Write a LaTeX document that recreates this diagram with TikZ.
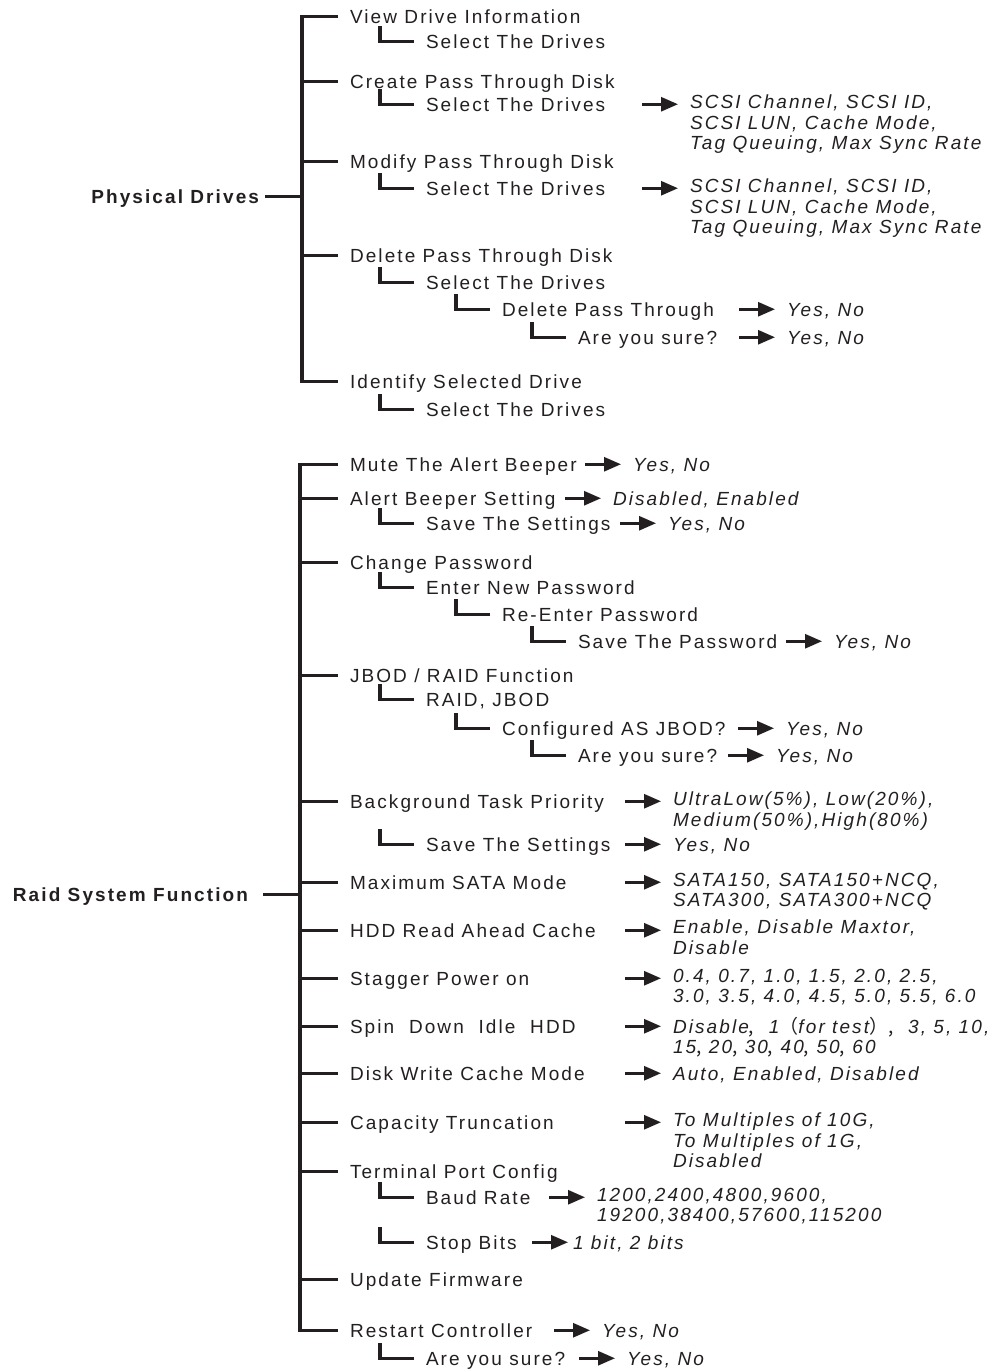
\documentclass[tikz,border=0pt]{standalone}
\usepackage{fontspec}
\setmainfont{Liberation Sans}[LetterSpace=11]
\newfontfamily\cjk{Noto Sans CJK SC}
\usetikzlibrary{arrows.meta}
\definecolor{ink}{HTML}{231F20}
\newcommand{\menufont}{\fontsize{19}{20.5}\selectfont}
\tikzset{
  root/.style={font=\menufont\bfseries, text=ink, anchor=base east, inner sep=0pt, outer xsep=6pt, text height=13.5pt, text depth=0pt},
  item/.style={font=\menufont, text=ink, anchor=base west, inner sep=0pt, outer xsep=12pt, outer ysep=5pt, text height=13.5pt, text depth=0pt},
  opt/.style ={font=\menufont\itshape, text=ink, anchor=north west, yshift=16pt, inner sep=0pt, outer xsep=12pt, align=left, execute at begin node=\rule{0pt}{16pt}},
  bar/.style ={line width=3.4pt, ink},
  go/.style  ={-{Triangle[length=17pt,width=14pt]}, line width=2.8pt, ink},
}
\begin{document}
\begin{tikzpicture}[x=1pt,y=-1pt]
  \useasboundingbox (0,0) rectangle (996,1369);
  \coordinate (pdT) at (302,0);
  \coordinate (rsT) at (300,0);

  \node[root] (pd) at (265,203) {Physical Drives};
  \node[item] (vdi) at (338,23)  {View Drive Information};
  \node[item] (sd1) at (414,48)  {Select The Drives};
  \node[item] (cpd) at (338,88)  {Create Pass Through Disk};
  \node[item] (sd2) at (414,111) {Select The Drives};
  \node[opt]  (o2)  at (678,111) {SCSI Channel, SCSI ID,\\SCSI LUN, Cache Mode,\\Tag Queuing, Max Sync Rate};
  \node[item] (mpd) at (338,168) {Modify Pass Through Disk};
  \node[item] (sd3) at (414,195) {Select The Drives};
  \node[opt]  (o3)  at (678,195) {SCSI Channel, SCSI ID,\\SCSI LUN, Cache Mode,\\Tag Queuing, Max Sync Rate};
  \node[item] (dpd) at (338,262) {Delete Pass Through Disk};
  \node[item] (sd4) at (414,289) {Select The Drives};
  \node[item] (dpt) at (490,316) {Delete Pass Through};
  \node[opt]  (odpt) at (775,316) {Yes, No};
  \node[item] (ays1) at (566,344) {Are you sure?};
  \node[opt]  (oays1) at (775,344) {Yes, No};
  \node[item] (isd) at (338,388) {Identify Selected Drive};
  \node[item] (sd5) at (414,416) {Select The Drives};

  \draw[bar] (pd.east) -- (pd.east -| pdT);
  \draw[bar] (vdi.west) -- (vdi.west -| pdT) |- (isd.west);
  \draw[bar] (cpd.west) -- (cpd.west -| pdT);
  \draw[bar] (mpd.west) -- (mpd.west -| pdT);
  \draw[bar] (dpd.west) -- (dpd.west -| pdT);
  \draw[bar] (sd1.west) -| ++(-34,-15);
  \draw[bar] (sd2.west) -| ++(-34,-15);
  \draw[bar] (sd3.west) -| ++(-34,-15);
  \draw[bar] (sd4.west) -| ++(-34,-15);
  \draw[bar] (dpt.west) -| ++(-34,-15);
  \draw[bar] (ays1.west) -| ++(-34,-15);
  \draw[bar] (sd5.west) -| ++(-34,-15);
  \draw[go] (sd2.east -| o2.west) ++(-36,0) -- (sd2.east -| o2.west);
  \draw[go] (sd3.east -| o3.west) ++(-36,0) -- (sd3.east -| o3.west);
  \draw[go] (dpt.east -| odpt.west) ++(-36,0) -- (dpt.east -| odpt.west);
  \draw[go] (ays1.east -| oays1.west) ++(-36,0) -- (ays1.east -| oays1.west);

  \node[root, outer xsep=15pt] (rs) at (263,901) {Raid System Function};
  \node[item] (mab) at (338,471) {Mute The Alert Beeper};
  \node[opt]  (omab) at (621,471) {Yes, No};
  \node[item] (abs) at (338,505) {Alert Beeper Setting};
  \node[opt]  (oabs) at (601,505) {Disabled, Enabled};
  \node[item] (sts1) at (414,530) {Save The Settings};
  \node[opt]  (osts1) at (656,530) {Yes, No};
  \node[item] (cpw) at (338,569) {Change Password};
  \node[item] (enp) at (414,594) {Enter New Password};
  \node[item] (rep) at (490,621) {Re-Enter Password};
  \node[item] (stp) at (566,648) {Save The Password};
  \node[opt]  (ostp) at (822,648) {Yes, No};
  \node[item] (jrf) at (338,682) {JBOD / RAID Function};
  \node[item] (rj)  at (414,706) {RAID, JBOD};
  \node[item] (caj) at (490,735) {Configured AS JBOD?};
  \node[opt]  (ocaj) at (774,735) {Yes, No};
  \node[item] (ays2) at (566,762) {Are you sure?};
  \node[opt]  (oays2) at (764,762) {Yes, No};
  \node[item] (btp) at (338,808) {Background Task Priority};
  \node[opt]  (obtp) at (661,808) {UltraLow(5\%), Low(20\%),\\Medium(50\%),High(80\%)};
  \node[item] (sts2) at (414,851) {Save The Settings};
  \node[opt]  (osts2) at (661,851) {Yes, No};
  \node[item] (msm) at (338,889) {Maximum SATA Mode};
  \node[opt]  (omsm) at (661,889) {SATA150, SATA150+NCQ,\\SATA300, SATA300+NCQ};
  \node[item] (hra) at (338,937) {HDD Read Ahead Cache};
  \node[opt]  (ohra) at (661,936) {Enable, Disable Maxtor,\\Disable};
  \node[item] (spo) at (338,985) {Stagger Power on};
  \node[opt]  (ospo) at (661,985) {0.4, 0.7, 1.0, 1.5, 2.0, 2.5,\\3.0, 3.5, 4.0, 4.5, 5.0, 5.5, 6.0};
  \node[item] (sdi) at (338,1033) {Spin\ \ Down\ \ Idle\ \ HDD};
  \node[opt]  (osdi) at (661,1033) {Disable{\cjk ,}\ \ 1{\cjk （}for test{\cjk ）,}\ \ 3, 5, 10,\\15{\cjk ,} 20{\cjk ,} 30{\cjk ,} 40{\cjk ,} 50{\cjk ,} 60};
  \node[item] (dwc) at (338,1080) {Disk Write Cache Mode};
  \node[opt]  (odwc) at (661,1080) {Auto, Enabled, Disabled};
  \node[item] (ctr) at (338,1129) {Capacity Truncation};
  \node[opt]  (octr) at (661,1129) {To Multiples of 10G,\\To Multiples of 1G,\\Disabled};
  \node[item] (tpc) at (338,1178) {Terminal Port Config};
  \node[item] (bdr) at (414,1204) {Baud Rate};
  \node[opt]  (obdr) at (585,1204) {1200,2400,4800,9600,\\19200,38400,57600,115200};
  \node[item] (stb) at (414,1249) {Stop Bits};
  \node[opt, outer xsep=5pt] (ostb) at (568,1249) {1 bit, 2 bits};
  \node[item] (udf) at (338,1286) {Update Firmware};
  \node[item] (rsc) at (338,1337) {Restart Controller};
  \node[opt]  (orsc) at (590,1337) {Yes, No};
  \node[item] (ays3) at (414,1365) {Are you sure?};
  \node[opt]  (oays3) at (615,1365) {Yes, No};

  \draw[bar] (rs.east) -- (rs.east -| rsT);
  \draw[bar] (mab.west) -- (mab.west -| rsT) |- (rsc.west);
  \draw[bar] (abs.west) -- (abs.west -| rsT);
  \draw[bar] (cpw.west) -- (cpw.west -| rsT);
  \draw[bar] (jrf.west) -- (jrf.west -| rsT);
  \draw[bar] (btp.west) -- (btp.west -| rsT);
  \draw[bar] (msm.west) -- (msm.west -| rsT);
  \draw[bar] (hra.west) -- (hra.west -| rsT);
  \draw[bar] (spo.west) -- (spo.west -| rsT);
  \draw[bar] (sdi.west) -- (sdi.west -| rsT);
  \draw[bar] (dwc.west) -- (dwc.west -| rsT);
  \draw[bar] (ctr.west) -- (ctr.west -| rsT);
  \draw[bar] (tpc.west) -- (tpc.west -| rsT);
  \draw[bar] (udf.west) -- (udf.west -| rsT);
  \draw[bar] (sts1.west) -| ++(-34,-15);
  \draw[bar] (enp.west) -| ++(-34,-15);
  \draw[bar] (rep.west) -| ++(-34,-15);
  \draw[bar] (stp.west) -| ++(-34,-15);
  \draw[bar] (rj.west) -| ++(-34,-15);
  \draw[bar] (caj.west) -| ++(-34,-15);
  \draw[bar] (ays2.west) -| ++(-34,-15);
  \draw[bar] (sts2.west) -| ++(-34,-15);
  \draw[bar] (bdr.west) -| ++(-34,-15);
  \draw[bar] (stb.west) -| ++(-34,-15);
  \draw[bar] (ays3.west) -| ++(-34,-15);
  \draw[go] (mab.east -| omab.west) ++(-36,0) -- (mab.east -| omab.west);
  \draw[go] (abs.east -| oabs.west) ++(-36,0) -- (abs.east -| oabs.west);
  \draw[go] (sts1.east -| osts1.west) ++(-36,0) -- (sts1.east -| osts1.west);
  \draw[go] (stp.east -| ostp.west) ++(-36,0) -- (stp.east -| ostp.west);
  \draw[go] (caj.east -| ocaj.west) ++(-36,0) -- (caj.east -| ocaj.west);
  \draw[go] (ays2.east -| oays2.west) ++(-36,0) -- (ays2.east -| oays2.west);
  \draw[go] (btp.east -| obtp.west) ++(-36,0) -- (btp.east -| obtp.west);
  \draw[go] (sts2.east -| osts2.west) ++(-36,0) -- (sts2.east -| osts2.west);
  \draw[go] (msm.east -| omsm.west) ++(-36,0) -- (msm.east -| omsm.west);
  \draw[go] (hra.east -| ohra.west) ++(-36,0) -- (hra.east -| ohra.west);
  \draw[go] (spo.east -| ospo.west) ++(-36,0) -- (spo.east -| ospo.west);
  \draw[go] (sdi.east -| osdi.west) ++(-36,0) -- (sdi.east -| osdi.west);
  \draw[go] (dwc.east -| odwc.west) ++(-36,0) -- (dwc.east -| odwc.west);
  \draw[go] (ctr.east -| octr.west) ++(-36,0) -- (ctr.east -| octr.west);
  \draw[go] (bdr.east -| obdr.west) ++(-36,0) -- (bdr.east -| obdr.west);
  \draw[go] (stb.east -| ostb.west) ++(-36,0) -- (stb.east -| ostb.west);
  \draw[go] (rsc.east -| orsc.west) ++(-36,0) -- (rsc.east -| orsc.west);
  \draw[go] (ays3.east -| oays3.west) ++(-36,0) -- (ays3.east -| oays3.west);
\end{tikzpicture}
\end{document}
